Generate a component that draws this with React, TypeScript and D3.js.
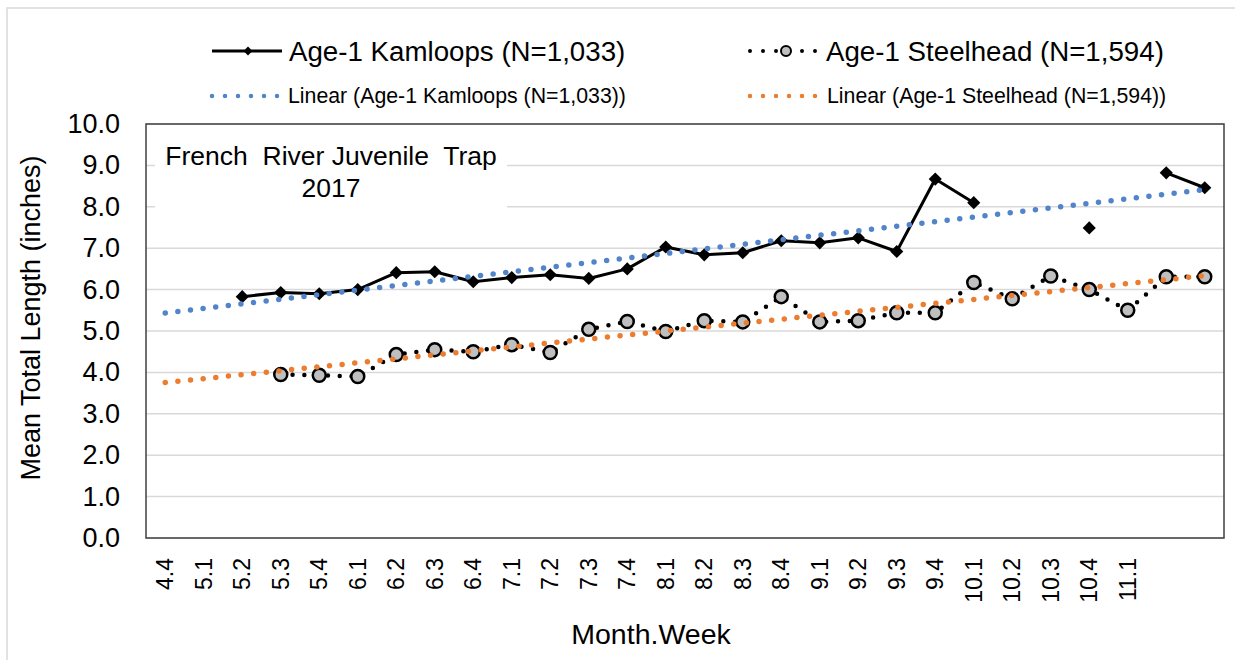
import * as d3 from "d3";

// Month.Week categories (last two are unlabeled in the original)
const categories = [
  "4.4", "5.1", "5.2", "5.3", "5.4", "6.1", "6.2", "6.3", "6.4", "7.1", "7.2", "7.3", "7.4",
  "8.1", "8.2", "8.3", "8.4", "9.1", "9.2", "9.3", "9.4", "10.1", "10.2", "10.3", "10.4", "11.1", "", "",
];

const kamloops: (number | null)[] = [
  null, null, 5.83, 5.93, 5.9, 6.0, 6.41, 6.43, 6.19, 6.29, 6.36, 6.27, 6.5, 7.03,
  6.84, 6.89, 7.18, 7.13, 7.25, 6.92, 8.67, 8.1, null, null, 7.49, null, 8.82, 8.46,
];

const steelhead: (number | null)[] = [
  null, null, null, 3.95, 3.93, 3.9, 4.43, 4.55, 4.5, 4.67, 4.48, 5.04, 5.23, 4.99,
  5.25, 5.22, 5.83, 5.22, 5.25, 5.44, 5.44, 6.17, 5.78, 6.33, 6.0, 5.5, 6.31, 6.31,
];

const yTicks = [0, 1, 2, 3, 4, 5, 6, 7, 8, 9, 10];

const KAM_LABEL = "Age-1 Kamloops (N=1,033)";
const STEEL_LABEL = "Age-1 Steelhead (N=1,594)";
const BLUE = "#5184ca";
const ORANGE = "#ec7c30";
const FONT = "'Liberation Sans', Arial, sans-serif";

// least squares fit on category index, like Excel's linear trendline
function linearFit(vals: (number | null)[]) {
  const pts = vals
    .map((v, i) => [i, v] as [number, number | null])
    .filter((p) => p[1] != null) as [number, number][];
  const mx = d3.mean(pts, (p) => p[0])!;
  const my = d3.mean(pts, (p) => p[1])!;
  const sxy = d3.sum(pts, (p) => (p[0] - mx) * (p[1] - my));
  const sxx = d3.sum(pts, (p) => (p[0] - mx) ** 2);
  const b = sxy / sxx;
  const a = my - b * mx;
  return [0, vals.length - 1].map((i) => [i, a + b * i] as [number, number]);
}

const App = () => {
  const width = 1235;
  const height = 660;
  const left = 146, right = 1224, top = 124, bottom = 538;

  const x = d3.scalePoint<number>()
    .domain(d3.range(categories.length))
    .range([left, right])
    .padding(0.5);
  const y = d3.scaleLinear().domain([0, 10]).range([bottom, top]);

  const line = d3.line<number | null>()
    .defined((d) => d != null)
    .x((_, i) => x(i)!)
    .y((d) => y(d as number));

  const trendLine = d3.line<[number, number]>()
    .x((d) => x(d[0])!)
    .y((d) => y(d[1]));

  const kamTrend = linearFit(kamloops);
  const steelTrend = linearFit(steelhead);

  const diamond = d3.symbol().type(d3.symbolDiamond2).size(110)()!;
  const smallDiamond = d3.symbol().type(d3.symbolDiamond2).size(50)()!;

  return (
    <svg
      width={width}
      height={height}
      style={{ position: "absolute", left: 0, top: 0, background: "#fff", fontFamily: FONT }}
    >
      {/* outer chart border */}
      <rect x={7} y={8} width={1300} height={700} fill="#fff" stroke="#d9d9d9" strokeWidth={1.5} />

      {/* gridlines */}
      {yTicks.map((t) => (
        <line key={t} x1={left} x2={right} y1={y(t)} y2={y(t)} stroke="#d9d9d9" strokeWidth={1.5} />
      ))}

      {/* title box (covers gridlines) */}
      <rect x={155} y={130} width={352} height={84} fill="#fff" />
      <text x={331} y={165} textAnchor="middle" fontSize={26.5} fill="#000" style={{ whiteSpace: "pre" }}>
        {"French  River Juvenile  Trap"}
      </text>
      <text x={331} y={197} textAnchor="middle" fontSize={26.5} fill="#000">2017</text>

      {/* plot border */}
      <rect x={left} y={top} width={right - left} height={bottom - top} fill="none" stroke="#404040" strokeWidth={1.5} />

      {/* series lines */}
      <path d={line(kamloops)!} fill="none" stroke="#000" strokeWidth={3} strokeLinejoin="round" />
      <path
        d={line(steelhead)!}
        fill="none"
        stroke="#000"
        strokeWidth={4.5}
        strokeDasharray="0 11.8"
        strokeLinecap="round"
      />

      {/* markers */}
      {kamloops.map((v, i) =>
        v == null ? null : (
          <path key={`k${i}`} d={diamond} transform={`translate(${x(i)},${y(v)})`} fill="#000" />
        )
      )}
      {steelhead.map((v, i) =>
        v == null ? null : (
          <circle key={`s${i}`} cx={x(i)} cy={y(v)} r={6.5} fill="#bfbfbf" stroke="#000" strokeWidth={2.5} />
        )
      )}

      {/* trendlines */}
      <path d={trendLine(kamTrend)!} fill="none" stroke={BLUE} strokeWidth={5.5} strokeDasharray="0 12.7" strokeLinecap="round" />
      <path d={trendLine(steelTrend)!} fill="none" stroke={ORANGE} strokeWidth={5.5} strokeDasharray="0 12.7" strokeLinecap="round" />

      {/* y axis */}
      {yTicks.map((t) => (
        <text key={t} x={120} y={y(t)} textAnchor="end" dominantBaseline="central" fontSize={27} fill="#000">
          {t.toFixed(1)}
        </text>
      ))}
      <text
        transform={`translate(31,318) rotate(-90)`}
        textAnchor="middle"
        dominantBaseline="central"
        fontSize={27}
        fill="#000"
      >
        Mean Total Length (inches)
      </text>

      {/* x axis */}
      {categories.map((c, i) => (
        <text
          key={i}
          transform={`translate(${x(i)},558) rotate(-90)`}
          textAnchor="end"
          dominantBaseline="central"
          fontSize={23}
          fill="#000"
        >
          {c}
        </text>
      ))}
      <text x={651} y={644} textAnchor="middle" fontSize={28.5} fill="#000">Month.Week</text>

      {/* legend row 1 */}
      <line x1={212} x2={282} y1={51} y2={51} stroke="#000" strokeWidth={3} />
      <path d={smallDiamond} transform="translate(248,51)" fill="#000" />
      <text x={289} y={51} dominantBaseline="central" fontSize={27.7} fill="#000">{KAM_LABEL}</text>

      <line x1={750} x2={818} y1={51} y2={51} stroke="#000" strokeWidth={4} strokeDasharray="0 13" strokeLinecap="round" />
      <circle cx={786} cy={51} r={5} fill="#bfbfbf" stroke="#000" strokeWidth={2} />
      <text x={826} y={51} dominantBaseline="central" fontSize={27.7} fill="#000">{STEEL_LABEL}</text>

      {/* legend row 2 */}
      <line x1={212} x2={280} y1={96} y2={96} stroke={BLUE} strokeWidth={4.5} strokeDasharray="0 13" strokeLinecap="round" />
      <text x={288} y={96} dominantBaseline="central" fontSize={21.3} fill="#000">{`Linear (${KAM_LABEL})`}</text>
      <line x1={750} x2={818} y1={96} y2={96} stroke={ORANGE} strokeWidth={4.5} strokeDasharray="0 13" strokeLinecap="round" />
      <text x={827} y={96} dominantBaseline="central" fontSize={21.3} fill="#000">{`Linear (${STEEL_LABEL})`}</text>
    </svg>
  );
};

export default App;
